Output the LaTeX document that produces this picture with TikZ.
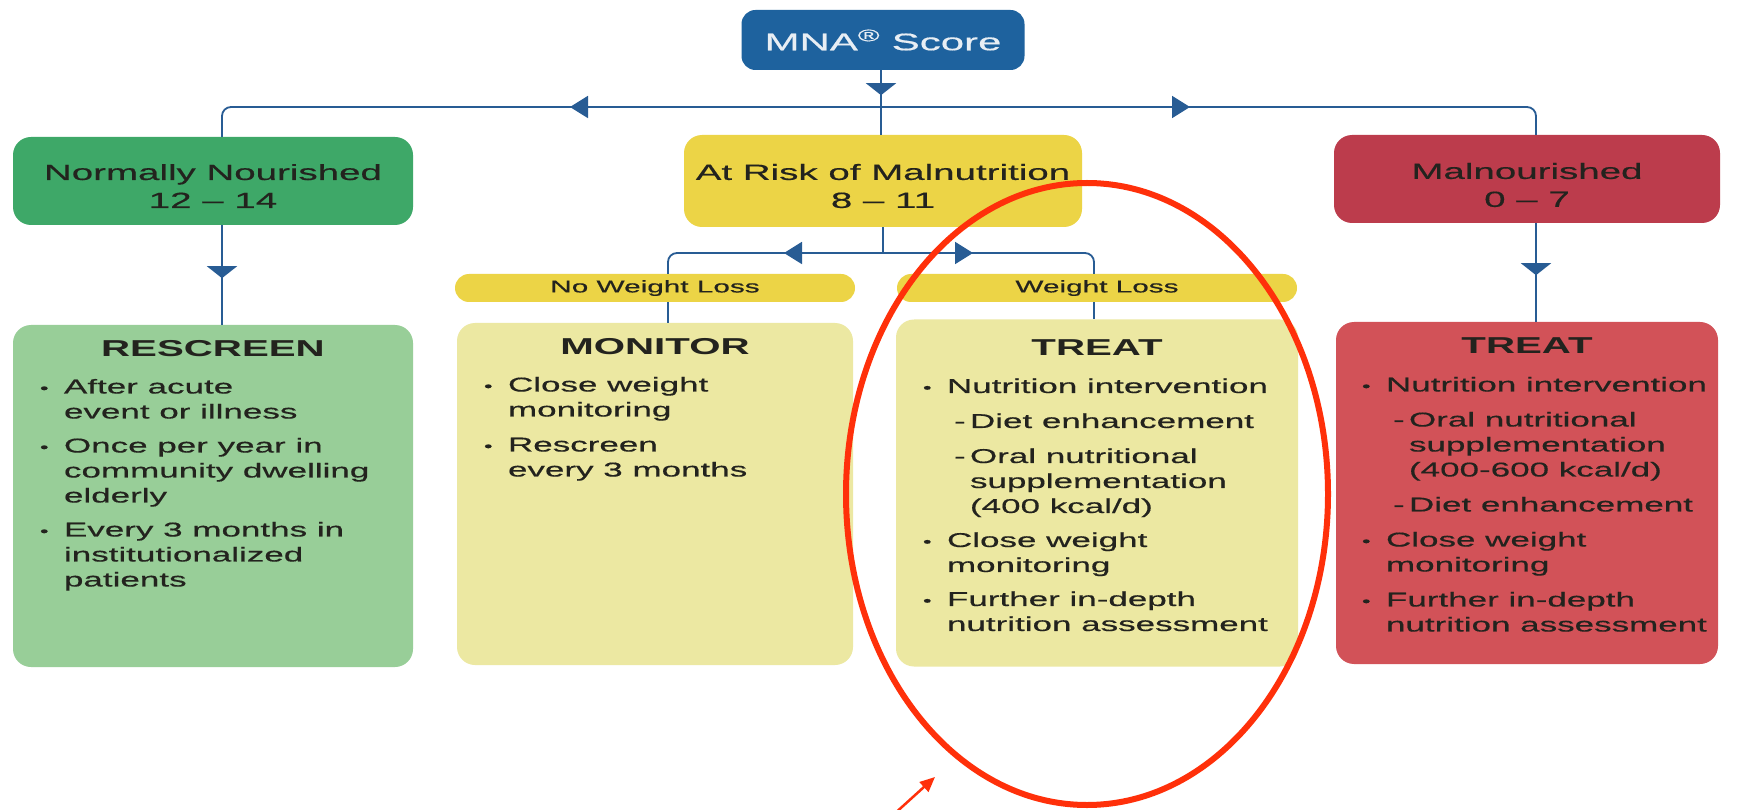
\documentclass[tikz,border=0pt]{standalone}
\usepackage{fontspec}
\setmainfont{Liberation Sans}[FakeStretch=1.75, UprightFeatures={FakeBold=0.5}]
\usetikzlibrary{arrows.meta,decorations.markings,calc}

\definecolor{mnablue}{RGB}{30,98,158}
\definecolor{mnatext}{RGB}{232,238,244}
\definecolor{linkblue}{RGB}{40,92,148}
\definecolor{greenhead}{RGB}{62,168,104}
\definecolor{greenbody}{RGB}{152,206,152}
\definecolor{yellowhead}{RGB}{236,212,70}
\definecolor{yellowbody}{RGB}{236,232,162}
\definecolor{redhead}{RGB}{188,60,76}
\definecolor{redbody}{RGB}{210,82,88}
\definecolor{markred}{RGB}{255,48,10}
\definecolor{inkdark}{RGB}{35,35,30}

\newcommand{\bodysize}{\fontsize{20}{25}\selectfont}
\newcommand{\bl}{\makebox[24pt][l]{\raisebox{0.5pt}{\fontsize{14}{14}\selectfont\textbullet}}}
\newcommand{\ind}{\hspace*{24pt}}
\newcommand{\dl}{\hspace*{31pt}\makebox[16pt][l]{-}}
\newcommand{\dind}{\hspace*{47pt}}

\begin{document}
\begin{tikzpicture}[x=1pt, y=-1pt,
        box/.style={rounded corners=18pt, inner sep=0pt, text=inkdark},
        headbox/.style={box, align=center, text height=54pt, font=\fontsize{22}{28}\selectfont},
        pill/.style={box, fill=yellowhead, rounded corners=14pt, minimum width=400pt,
            minimum height=28pt, font=\fontsize{17}{20}\selectfont},
        bigbox/.style={box, minimum height=342pt},
        headtxt/.style={font=\bfseries\fontsize{23}{28}\selectfont, text=inkdark,
            inner sep=0pt, anchor=base},
        listtxt/.style={font=\bodysize, text=inkdark, inner sep=0pt, align=left,
            anchor=north west},
        link/.style={color=linkblue, line width=1.8pt, rounded corners=9pt},
        tri down/.style={postaction={decorate, decoration={markings,
            mark=at position #1 with {\arrow{Triangle[width=30pt,length=12pt]}}}}},
        tri side/.style={postaction={decorate, decoration={markings,
            mark=at position #1 with {\arrow{Triangle[width=22pt,length=18pt]}}}}}]

                \path[fill=white, use as bounding box] (0,0) rectangle (1741,810);

                % 顶部
                \node[box, fill=mnablue, rounded corners=14pt, minimum width=283pt,
                    minimum height=60pt, text=mnatext, font=\fontsize{24}{28}\selectfont]
                    (mna) at (883,40) {MNA\textsuperscript{\textregistered} Score};

                % 三个分级
                \node[headbox, fill=greenhead, minimum width=400pt, minimum height=88pt]
                    (normal) at (213,181) {Normally Nourished\\12 -- 14};
                \node[headbox, fill=yellowhead, minimum width=398pt, minimum height=92pt]
                    (atrisk) at (883,181) {At Risk of Malnutrition\\8 -- 11};
                \node[headbox, fill=redhead, minimum width=386pt, minimum height=88pt,
                    text height=56pt] (malnour) at (1527,179) {Malnourished\\0 -- 7};

                % 体重
                \node[pill] (noloss) at (655,288) {No Weight Loss};
                \node[pill] (loss) at (1097,288) {Weight Loss};

                % 下方方框
                \node[bigbox, fill=greenbody, minimum width=400pt] (rescreen) at (213,496) {};
                \node[bigbox, fill=yellowbody, minimum width=396pt] (monitor) at (655,494) {};
                \node[bigbox, fill=yellowbody, minimum width=402pt, minimum height=347pt]
                    (treatA) at (1097,493) {};
                \node[bigbox, fill=redbody, minimum width=382pt] (treatB) at (1527,493) {};

                \node[headtxt] (rescreen-h) at ($(rescreen.north)+(0,32)$) {RESCREEN};
                \node[headtxt] (monitor-h) at ($(monitor.north)+(0,32)$) {MONITOR};
                \node[headtxt] (treatA-h) at ($(treatA.north)+(0,36)$) {TREAT};
                \node[headtxt] (treatB-h) at ($(treatB.north)+(0,32)$) {TREAT};

                \node[listtxt] (rescreen-l) at ($(rescreen.north west)+(27,54)$) {%
                    \bl After acute\\
                    \ind event or illness\\[9pt]
                    \bl Once per year in\\
                    \ind community dwelling\\
                    \ind elderly\\[9pt]
                    \bl Every 3 months in\\
                    \ind institutionalized\\
                    \ind patients};
                \node[listtxt] (monitor-l) at ($(monitor.north west)+(27,54)$) {%
                    \bl Close weight\\
                    \ind monitoring\\[10pt]
                    \bl Rescreen\\
                    \ind every 3 months};
                \node[listtxt] (treatA-l) at ($(treatA.north west)+(27,59)$) {%
                    \bl Nutrition intervention\\[10pt]
                    \dl Diet enhancement\\[10pt]
                    \dl Oral nutritional\\
                    \dind supplementation\\
                    \dind (400 kcal/d)\\[9pt]
                    \bl Close weight\\
                    \ind monitoring\\[9pt]
                    \bl Further in-depth\\
                    \ind nutrition assessment};
                \node[listtxt] (treatB-l) at ($(treatB.north west)+(26,55)$) {%
                    \bl Nutrition intervention\\[10pt]
                    \dl Oral nutritional\\
                    \dind supplementation\\
                    \dind (400-600 kcal/d)\\[10pt]
                    \dl Diet enhancement\\[10pt]
                    \bl Close weight\\
                    \ind monitoring\\[10pt]
                    \bl Further in-depth\\
                    \ind nutrition assessment};

                % 连线
                \coordinate (bus) at (881,107);
                \coordinate (split) at (883,253);
                \draw[link, tri down=25pt] ([xshift=-2pt]mna.south) -- (bus);
                \draw[link, tri side=311pt] (bus) -| ([xshift=9pt]normal.north);
                \draw[link, tri side=309pt] (bus) -| ([xshift=9pt]malnour.north);
                \draw[link] (bus) -- ([xshift=-2pt]atrisk.north);
                \draw[link, tri down=53pt] ([xshift=9pt]normal.south) -- ([xshift=9pt]rescreen.north);
                \draw[link, tri down=52pt] ([xshift=9pt]malnour.south) -- ([xshift=9pt]treatB.north);
                \draw[link] (atrisk.south) -- (split);
                \draw[link, tri side=99pt] (split) -| ([xshift=13pt]noloss.north);
                \draw[link, tri side=90pt] (split) -| ([xshift=-3pt]loss.north);
                \draw[link] ([xshift=13pt]noloss.south) -- ([xshift=13pt]monitor.north);
                \draw[link] ([xshift=-3pt]loss.south) -- ([xshift=-3pt]treatA.north);

                % 红色标记
                \draw[markred, line width=6pt] (1087,494) ellipse [x radius=241pt, y radius=311pt];
                \coordinate (pointtail) at (892,816);
                \coordinate (pointtip) at (935,777);
                \draw[markred, line width=2.5pt, -{Triangle[width=13pt,length=15pt]}]
                    (pointtail) -- (pointtip);
            \end{tikzpicture}
\end{document}
